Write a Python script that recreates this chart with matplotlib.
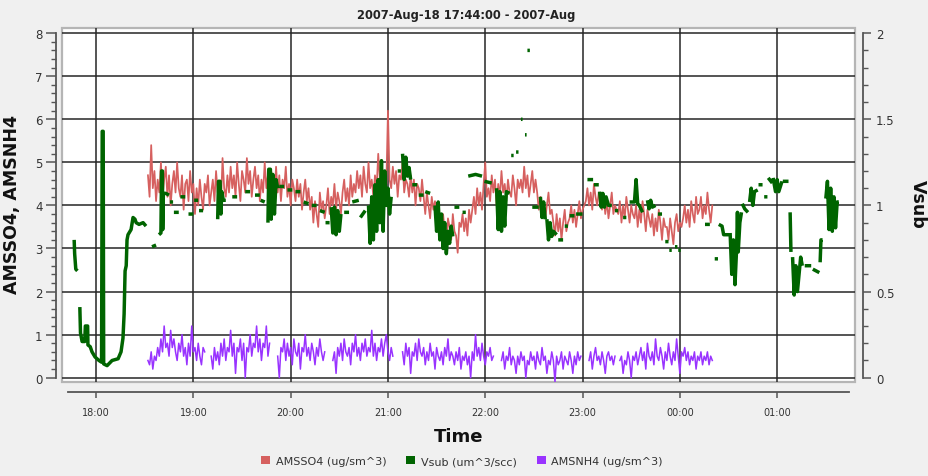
import datetime
import numpy as np
import matplotlib
matplotlib.use("Agg")
import matplotlib.pyplot as plt
import matplotlib.dates as mdates
from matplotlib.ticker import MultipleLocator, FuncFormatter
from matplotlib.patches import Patch

# time axis: minutes after 18:00 on 2007-08-18
T0 = datetime.datetime(2007, 8, 18, 18, 0)
X_MIN, X_MAX = -21, 468

# AMSSO4 (ug/sm^3), one sample per minute from 18:32
so4_start = 32
so4_val = [
    4.7, 4.2, 5.4, 4.4, 4.8, 4.1, 4.6, 4.3, 5.0, 4.2,
    4.6, 4.9, 4.2, 4.7, 4.0, 4.5, 4.8, 4.3, 5.0, 4.4,
    4.2, 4.7, 3.9, 4.5, 4.6, 4.1, 4.8, 4.3, 4.5, 3.8,
    4.4, 4.0, 4.6, 4.2, 3.9, 4.5, 4.3, 4.7, 4.0, 4.3,
    4.6, 4.1, 4.8, 4.3, 4.5, 4.0, 5.1, 4.4, 4.2, 4.7,
    4.3, 4.9, 4.4, 4.7, 4.2, 5.0, 4.5, 4.1, 4.8, 4.6,
    4.3, 5.1, 4.5, 4.8, 4.2, 4.6, 4.9, 4.4, 4.7, 4.1,
    4.6, 4.3, 5.0, 4.4, 4.7, 4.1, 4.8, 4.5, 4.2, 4.9,
    4.3, 4.7, 4.1, 4.6, 4.4, 4.9, 4.2, 4.5, 4.0, 4.6,
    4.4, 4.1, 4.6, 4.2, 4.5, 3.9, 4.3, 4.6, 4.1, 4.4,
    3.9, 4.2, 3.6, 4.1, 3.8, 3.5, 4.3, 3.9, 4.1, 3.7,
    4.0, 4.4, 3.8, 4.2, 4.0, 4.5, 3.9, 4.3, 4.1, 3.8,
    4.3, 4.6, 4.1, 4.4, 4.0, 4.7, 4.2, 4.5, 4.3, 4.8,
    4.4, 4.7, 4.2, 4.9, 4.5, 4.3, 5.0, 4.4, 4.6, 4.2,
    4.7, 4.4, 5.2, 4.6, 4.9, 4.3, 4.8, 4.5, 6.2, 4.6,
    4.4, 4.9, 4.5, 4.8, 4.2, 4.7, 4.6, 5.0, 4.3, 4.6,
    4.5, 4.2, 4.7, 4.3, 4.6, 4.0, 4.5, 4.4, 4.1, 4.6,
    4.2, 3.8, 4.3, 4.0, 3.7, 4.2, 3.9, 4.1, 3.6, 4.0,
    3.6, 3.3, 3.8, 3.4, 3.0, 3.7, 3.5, 3.2, 3.8, 3.4,
    3.3, 2.9, 3.6, 3.5, 3.8, 3.4, 3.7, 3.3, 3.9, 3.6,
    3.9, 4.2, 3.8, 4.4, 4.0, 4.3, 3.9, 4.5, 5.0, 4.2,
    4.4, 4.1, 4.7, 4.3, 4.6, 4.0, 4.5, 4.2, 4.8, 4.3,
    4.5, 4.1, 4.6, 4.3, 4.2, 4.7, 4.4, 4.0, 4.6, 4.4,
    4.6, 4.3, 4.9, 4.4, 4.7, 4.2, 4.5, 4.8, 4.3, 4.6,
    4.3, 3.9, 4.2, 3.8, 4.1, 3.7, 4.0, 4.3, 3.8, 3.9,
    3.6, 3.3, 3.8, 3.4, 3.7, 3.2, 3.6, 3.9, 3.4, 3.6,
    3.7, 4.0, 3.6, 3.9, 3.5, 3.8, 4.1, 3.7, 3.9, 4.0,
    4.1, 4.4, 4.0, 4.3, 3.9, 4.5, 4.2, 4.0, 4.3, 4.1,
    3.9, 4.2, 3.8, 4.1, 3.7, 4.0, 4.3, 3.8, 4.0, 3.9,
    3.8, 4.1, 3.6, 4.0, 3.7, 4.2, 3.9, 3.6, 4.0, 3.8,
    3.7, 4.0, 3.5, 3.9, 3.6, 4.1, 3.8, 3.4, 3.9, 3.7,
    3.5, 3.8, 3.3, 3.7, 3.4, 3.9, 3.6, 3.2, 3.7, 3.5,
    3.5, 3.2, 3.7, 3.4, 3.1, 3.6, 3.8, 3.4, 3.6, 3.5,
    3.7, 4.0, 3.6, 3.9, 3.5, 4.1, 3.8, 3.6, 4.2, 3.8,
    3.9, 4.2, 3.7, 4.0, 3.8, 4.3, 3.9, 3.6, 4.0,
]

# AMSNH4 (ug/sm^3), one sample per minute, in runs separated by gaps
nh4_starts = [32, 71, 112, 146, 189, 250, 304, 323]
nh4_runs = [
    [0.4, 0.3, 0.6, 0.2, 0.5, 0.4, 0.7, 0.5, 0.9, 0.6, 1.2, 0.7, 0.8, 0.5, 1.1, 0.7, 0.9, 0.6,
     0.4, 0.8, 0.6, 1.0, 0.5, 0.7, 0.3, 0.8, 0.5, 1.2, 0.6, 0.7, 0.4, 0.8, 0.5, 0.3, 0.7, 0.6],
    [0.5, 0.2, 0.7, 0.4, 0.6, 0.3, 0.8, 0.5, 0.9, 0.4, 0.7, 0.6, 1.1, 0.5, 0.8, 0.1, 0.7, 0.6,
     0.9, 0.4, 0.8, 0.0, 0.7, 0.6, 1.0, 0.5, 0.8, 0.7, 1.2, 0.6, 0.9, 0.4, 0.8, 0.7, 1.2, 0.5, 0.8],
    [0.5, 0.0, 0.7, 0.6, 0.9, 0.4, 0.8, 0.5, 0.7, 0.3, 0.9, 0.6, 0.5, 0.8, 0.2, 0.7, 0.6, 1.0,
     0.5, 0.7, 0.4, 0.8, 0.6, 0.3, 0.7, 0.5, 0.9, 0.6, 0.4, 0.6],
    [0.4, 0.6, 0.1, 0.7, 0.5, 0.8, 0.4, 0.9, 0.6, 0.5, 0.7, 0.3, 0.8, 0.6, 1.0, 0.5, 0.7, 0.4,
     0.8, 0.6, 0.9, 0.5, 0.7, 0.6, 1.1, 0.5, 0.8, 0.4, 0.7, 0.6, 0.9, 0.5, 0.8, 1.0, 0.6, 0.4,
     0.7, 0.5],
    [0.6, 0.3, 0.8, 0.5, 0.7, 0.1, 0.6, 0.5, 0.8, 0.4, 0.9, 0.6, 0.5, 0.7, 0.3, 0.6, 0.4, 0.8,
     0.5, 0.6, 0.2, 0.7, 0.5, 0.4, 0.6, 0.3, 0.7, 0.5, 0.9, 0.4, 0.6, 0.5, 0.3, 0.6, 0.4, 0.7,
     0.2, 0.5, 0.4, 0.6, 0.3, 0.5, 0.0, 0.6, 0.4, 1.0, 0.5, 0.7, 0.4, 0.8, 0.5, 0.3, 0.6, 0.5,
     0.7, 0.4, 0.5],
    [0.4, 0.6, 0.2, 0.5, 0.4, 0.7, 0.3, 0.5, 0.4, 0.1, 0.5, 0.3, 0.6, 0.4, 0.5, 0.0, 0.4, 0.3,
     0.6, 0.4, 0.5, 0.2, 0.6, 0.4, 0.3, 0.7, 0.4, 0.5, 0.1, 0.4, 0.3, 0.6, 0.4, -0.1, 0.5, 0.3,
     0.4, 0.6, 0.2, 0.5, 0.4, 0.3, 0.6, 0.4, 0.1, 0.5, 0.3, 0.6, 0.4, 0.5],
    [0.4, 0.6, 0.2, 0.5, 0.7, 0.4, 0.5, 0.3, 0.6, 0.4, 0.1, 0.5, 0.6, 0.4, 0.5, 0.3, 0.5],
    [0.4, 0.5, 0.1, 0.4, 0.3, 0.6, 0.4, 0.0, 0.5, 0.4, 0.6, 0.3, 0.5, 0.7, 0.4, 0.6, 0.2, 0.8,
     0.5, 0.4, 0.6, 0.3, 0.9, 0.5, 0.4, 0.7, 0.5, 0.2, 0.6, 0.4, 0.8, 0.5, 0.3, 0.6, 0.4, 0.9,
     0.5, 0.1, 0.6, 0.5, 0.7, 0.4, 0.6, 0.3, 0.5, 0.4, 0.6, 0.2, 0.5, 0.4, 0.6, 0.3, 0.5, 0.4,
     0.6, 0.3, 0.5, 0.4],
]

# Vsub (um^3/scc): (minute, value), None marks a break in the trace
vsub_min = [
    -13.5, -13.2, -12.5, -11.5, None,
    -10, -9.6, -8.6, -7, -6.6, -5.2, -5, -3.6, -2.5, -0.6, 1.8, 3.4, 3.8, 4.4, 4.7, 6.8, 9.9,
    13.6, 15.4, 16.6, 17.3, 17.9, 18.6, 19.1, 19.7, 21.6, 22.8, 24.0, 24.7, 26.5, 29.0, 30.8, None,
    34.5, 37.0, None,
    38.8, 40.0, 40.4, 40.9, 41.1, 41.5, 43, 45, None,
    45.5, 47.5, None, 48, 51, None, 52, 55, None, 57, 60, None, 60.5, 63, None, 63.5, 66, None,
    75, 75.5, 76.5, 77, 77.5, 78.5, 80, None,
    84, 87, None, 92, 95, None, 98, 101, None, 101.5, 104, None,
    106, 106.5, 107.5, 108, 109, 110, 111, 112, None,
    113, 116, None, 118, 121, None, 123, 126, None,
    128, 131, None, 133, 136, None, 138, 141, None, 141.5, 144, None,
    145, 146, 147, 148, 149, 150, 151, None,
    153, 156, None, 158, 162, None, 163, 166, None,
    168, 169, 170, 171, 172, 173, 174, 175, 176, 177, 178, 179, 180, 181, 182, None,
    186, 188, None,
    189, 190, 191, 192, 193, 194, None,
    195, 198, None, 199, 202, None, 203, 206, None,
    209, 210, 211, 212, 213, 214, 215, 216, 217, 218, 219, 220, None,
    221, 224, None, 226, 228, None,
    229.5, 234, 238, None, 239.5, 244, None,
    247, 248, 249, 250, 251, 252, 253, 255, None,
    256, 257.5, None, 259, 260.5, None, 262, 263, None, 264.5, 265.5, None, 266, 267.5, None,
    269, 273, None,
    274, 275, 276, 277, None,
    278, 279, 280, 281, 282, 284, None, 285, 288, None,
    289, 291, None, 292, 295, None, 296, 300, None,
    303, 306.5, None, 307, 310, None,
    310.5, 311.5, 312.5, 313.5, 314.5, 316, 318, None,
    320, 322, None, 325, 327, None,
    329, 332, 333, 334, 335, 337, None,
    340, 341, 342, 343, 345, None,
    346.5, 349, None,
    351, 353, None, 353.5, 355, None, 357, 358.5, None, 359, 360.5, None,
    375.5, 378.5, None, 381.5, 383.5, None,
    384, 386, 387, 390, None,
    391, 392, 393, 394, 395, 395.5, 396, 397, 398, None,
    398.5, 400, 402, None,
    403, 404, 405, 406, 408, None,
    408.5, 411, None, 412, 414, None, 414.5, 417, None,
    417.5, 419, 420, 421, 423, None,
    423.5, 427, None,
    428, 428.5, None,
    429.5, 430.5, 431.5, 432.5, 433.5, 434.5, 435.5, None,
    437, 441, None, 442, 446, None,
    446.5, 447, 448, None,
    450, 451, 452, 453, 454, 455, 456, 457, 458,
]
vsub_val = [
    0.80, 0.72, 0.63, 0.62, None,
    0.41, 0.26, 0.21, 0.21, 0.30, 0.30, 0.19, 0.18, 0.15, 0.12, 0.10, 0.09, 1.43, 1.43, 0.08, 0.07, 0.10,
    0.11, 0.15, 0.23, 0.37, 0.62, 0.65, 0.80, 0.83, 0.86, 0.93, 0.92, 0.90, 0.89, 0.90, 0.88, None,
    0.76, 0.77, None,
    0.83, 0.84, 1.20, 1.20, 0.86, 1.07, 1.07, 1.06, None,
    1.02, 1.02, None, 0.96, 0.96, None, 1.05, 1.05, None, 0.95, 0.95, None, 1.03, 1.03, None, 0.97, 0.97, None,
    0.92, 1.14, 1.14, 0.95, 1.08, 1.03, 1.03, None,
    1.05, 1.05, None, 1.08, 1.08, None, 1.06, 1.06, None, 1.03, 1.02, None,
    0.90, 1.21, 1.21, 0.92, 1.18, 0.95, 1.15, 1.10, None,
    1.11, 1.11, None, 1.09, 1.09, None, 1.08, 1.08, None,
    1.02, 1.01, None, 1.00, 1.00, None, 0.97, 0.96, None, 0.90, 0.90, None,
    0.99, 0.84, 0.99, 0.83, 0.97, 0.85, 0.95, None,
    0.96, 0.96, None, 1.02, 1.03, None, 0.93, 0.97, None,
    1.00, 0.78, 1.05, 0.80, 1.12, 0.85, 1.15, 0.90, 1.26, 0.85, 1.20, 1.00, 1.10, 0.95, 1.05, None,
    1.20, 1.20, None,
    1.30, 1.15, 1.28, 1.17, 1.22, 1.15, None,
    1.12, 1.12, None, 1.06, 1.06, None, 1.08, 1.07, None,
    1.00, 0.85, 1.02, 0.80, 0.95, 0.75, 0.90, 0.72, 0.85, 0.78, 0.88, 0.82, None,
    0.99, 0.99, None, 0.96, 0.96, None,
    1.17, 1.18, 1.17, None, 1.14, 1.13, None,
    1.10, 0.86, 1.08, 0.85, 1.05, 0.88, 1.08, 1.07, None,
    1.29, 1.29, None, 1.31, 1.31, None, 1.50, 1.50, None, 1.41, 1.41, None, 1.90, 1.90, None,
    0.99, 0.99, None,
    1.05, 0.93, 1.02, 0.92, None,
    0.92, 0.80, 0.90, 0.82, 0.85, 0.83, None, 0.80, 0.80, None,
    0.88, 0.88, None, 0.94, 0.94, None, 0.95, 0.95, None,
    1.15, 1.15, None, 1.12, 1.12, None,
    1.08, 0.99, 1.07, 0.99, 1.05, 1.00, 1.00, None,
    0.97, 0.97, None, 0.93, 0.93, None,
    1.02, 1.02, 1.15, 1.01, 1.00, 0.96, None,
    1.03, 0.98, 1.03, 0.99, 1.00, None,
    0.95, 0.95, None,
    0.79, 0.79, None, 0.74, 0.74, None, 0.76, 0.76, None, 0.74, 0.74, None,
    0.89, 0.89, None, 0.69, 0.69, None,
    0.89, 0.88, 0.83, 0.83, None,
    0.84, 0.60, 0.80, 0.54, 0.75, 0.96, 0.73, 0.90, 0.96, None,
    1.01, 0.98, 0.96, None,
    1.02, 1.10, 1.00, 1.08, 1.09, None,
    1.12, 1.12, None, 1.05, 1.05, None, 1.16, 1.13, None,
    1.16, 1.08, 1.15, 1.08, 1.14, None,
    1.14, 1.14, None,
    0.96, 0.73, None,
    0.70, 0.48, 0.65, 0.50, 0.60, 0.70, 0.65, None,
    0.65, 0.65, None, 0.63, 0.61, None,
    0.67, 0.80, 0.80, None,
    1.04, 1.14, 0.86, 1.10, 0.85, 1.05, 0.87, 1.02, 1.02,
]

RED, GREEN, PURPLE = "#d6605f", "#006400", "#9933ff"
BG = "#f0f0f0"


def to_x(minutes):
    return mdates.date2num(T0) + np.asarray(minutes, dtype=float) / 1440.0


so4_x = to_x(so4_start + np.arange(len(so4_val)))

nh4_m, nh4_v = [], []
for start, run in zip(nh4_starts, nh4_runs):
    nh4_m += list(start + np.arange(len(run))) + [np.nan]
    nh4_v += run + [np.nan]
nh4_x = to_x(nh4_m)

vsub_x = to_x(np.array(vsub_min, dtype=float))
vsub_y = np.array(vsub_val, dtype=float)

W, H = 929, 477
fig = plt.figure(figsize=(W / 100, H / 100), dpi=100, facecolor=BG)
ax = fig.add_axes([62 / W, 1 - 383 / H, (855 - 62) / W, (383 - 29) / H])
ax.set_facecolor("white")
ax.patch.set_edgecolor("#b5b5b5")
ax.patch.set_linewidth(1.6)

ax.plot(so4_x, so4_val, color=RED, lw=1.25, zorder=3)
ax.plot(nh4_x, nh4_v, color=PURPLE, lw=1.1, zorder=3)

ax.set_xlim(to_x(X_MIN), to_x(X_MAX))
ax.set_ylim(-0.1, 8.12)
ax.xaxis.set_major_locator(mdates.HourLocator())
ax.xaxis.set_major_formatter(mdates.DateFormatter("%H:%M"))
ax.yaxis.set_major_locator(MultipleLocator(1))
ax.yaxis.set_minor_locator(MultipleLocator(0.2))
ax.yaxis.set_major_formatter(FuncFormatter(lambda v, p: f"{v:g}"))
ax.grid(True, which="major", color="#262626", lw=1.1, zorder=1)
ax.set_axisbelow(True)

for s in ("top", "right"):
    ax.spines[s].set_visible(False)
ax.spines["left"].set_position(("outward", 4))
ax.spines["left"].set_bounds(0, 8)
ax.spines["bottom"].set_position(("outward", 7))
ax.spines["bottom"].set_bounds(to_x(-17.3), to_x(464))
for s in ("left", "bottom"):
    ax.spines[s].set_color("#555555")
    ax.spines[s].set_linewidth(1.3)
ax.tick_params(axis="y", which="major", direction="out", length=7, width=1.1,
               color="#555555", labelsize=8.5, labelcolor="#333333", pad=3)
ax.tick_params(axis="y", which="minor", direction="out", length=3.5, width=1,
               color="#555555")
ax.tick_params(axis="x", direction="out", length=4, width=1.1, color="#555555",
               labelsize=7, labelcolor="#333333", pad=7)

ax2 = ax.twinx()
ax2.plot(vsub_x, vsub_y, color=GREEN, lw=2.5, solid_capstyle="butt", zorder=4)
ax2.set_ylim(-0.1 / 4, 8.12 / 4)
ax2.yaxis.set_major_locator(MultipleLocator(0.5))
ax2.yaxis.set_minor_locator(MultipleLocator(0.1))
ax2.yaxis.set_major_formatter(FuncFormatter(lambda v, p: f"{v:g}"))
for s in ("top", "left", "bottom"):
    ax2.spines[s].set_visible(False)
ax2.spines["right"].set_position(("outward", 6))
ax2.spines["right"].set_bounds(0, 2)
ax2.spines["right"].set_color("#555555")
ax2.spines["right"].set_linewidth(1.3)
ax2.tick_params(axis="y", which="major", direction="out", length=6, width=1.1,
                color="#555555", labelsize=8.5, labelcolor="#333333", pad=3)
ax2.tick_params(axis="y", which="minor", direction="out", length=3.5, width=1,
                color="#555555")

fig.text(466 / W, 1 - 15 / H, "2007-Aug-18 17:44:00 - 2007-Aug", ha="center", va="center",
         fontsize=8.3, fontweight="bold", color="#222222")
fig.text(12 / W, 1 - 205 / H, "AMSSO4, AMSNH4", rotation=90, ha="center", va="center",
         fontsize=12.5, fontweight="bold", color="#111111")
fig.text(918 / W, 1 - 204 / H, "Vsub", rotation=270, ha="center", va="center",
         fontsize=12.5, fontweight="bold", color="#111111")
fig.text(459 / W, 1 - 437 / H, "Time", ha="center", va="center",
         fontsize=13, fontweight="bold", color="#111111")

handles = [Patch(facecolor=RED, label="AMSSO4 (ug/sm^3)"),
           Patch(facecolor=GREEN, label="Vsub (um^3/scc)"),
           Patch(facecolor=PURPLE, label="AMSNH4 (ug/sm^3)")]
leg = fig.legend(handles=handles, loc="center", bbox_to_anchor=(462 / W, 1 - 462 / H),
                 ncol=3, frameon=False, fontsize=8, handlelength=0.8, handleheight=0.8,
                 handletextpad=0.5, columnspacing=1.8)
for t in leg.get_texts():
    t.set_color("#333333")

fig.savefig("out.png", dpi=100, facecolor=BG)
